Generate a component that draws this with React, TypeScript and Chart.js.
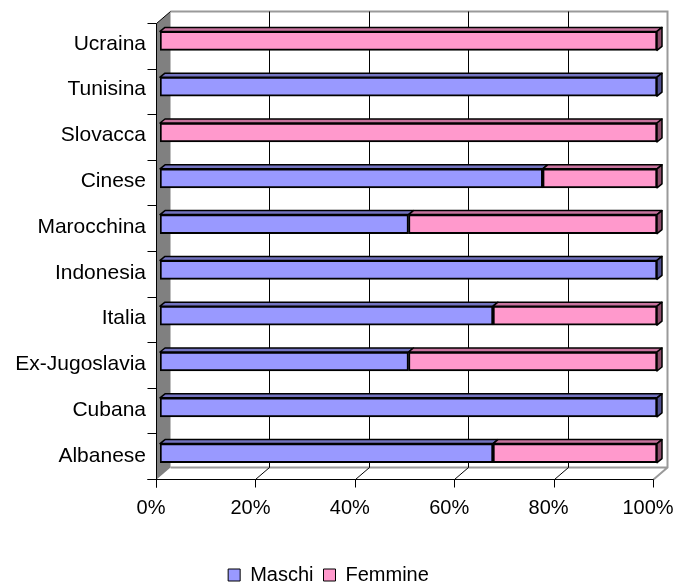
import { useEffect, useRef } from 'react';
import { Chart, registerables } from 'chart.js';

Chart.register(...registerables);

const categories = ['Ucraina', 'Tunisina', 'Slovacca', 'Cinese', 'Marocchina', 'Indonesia', 'Italia', 'Ex-Jugoslavia', 'Cubana', 'Albanese'];
const maschi = [0, 100, 0, 77, 50, 100, 67, 50, 100, 67];
const femmine = [100, 0, 100, 23, 50, 0, 33, 50, 0, 33];
const seriesNames = ['Maschi', 'Femmine'];
const xTickValues = [0, 20, 40, 60, 80, 100];

const FONT = "'Liberation Sans', Arial, sans-serif";
const W = 684;
const H = 587;
const FRONT_COLORS = ['#9999FF', '#FF99CC'];
const TOP_COLORS = ['#7373C0', '#C8739E'];
const SIDE_COLORS = ['#50508F', '#8C4D6B'];

const frame3d = {
  id: 'frame3d',
  beforeDatasetsDraw(chart: any) {
    const { ctx, chartArea: ca, scales } = chart;
    const xs = scales.x;
    const fx = (v: number) => Math.round(xs.getPixelForValue(v) - 4) + 0.5;
    const bx = (v: number) => fx(v) + 14;
    const yTop = ca.top - 7 + 0.5;
    const yFrontTop = ca.top + 5 + 0.5;
    const yBackFloor = ca.bottom - 9 + 0.5;
    const yFloor = ca.bottom + 3 + 0.5;
    ctx.save();
    ctx.strokeStyle = '#9a9a9a';
    ctx.lineWidth = 2;
    ctx.beginPath();
    ctx.moveTo(bx(0), yTop);
    ctx.lineTo(bx(100), yTop);
    ctx.lineTo(bx(100), yBackFloor);
    ctx.lineTo(fx(100), yFloor);
    ctx.moveTo(bx(0), yBackFloor);
    ctx.lineTo(bx(100), yBackFloor);
    ctx.stroke();
    ctx.strokeStyle = '#000';
    ctx.lineWidth = 1;
    for (const v of xTickValues) {
      ctx.beginPath();
      if (v > 0 && v < 100) {
        ctx.moveTo(bx(v), yTop);
        ctx.lineTo(bx(v), yBackFloor);
        ctx.lineTo(fx(v), yFloor);
      } else {
        ctx.moveTo(fx(v), yFloor);
      }
      ctx.lineTo(fx(v), yFloor + 8);
      ctx.stroke();
    }
    ctx.fillStyle = '#808080';
    ctx.beginPath();
    ctx.moveTo(fx(0), yFrontTop);
    ctx.lineTo(bx(0), yTop);
    ctx.lineTo(bx(0), yBackFloor);
    ctx.lineTo(fx(0), yFloor);
    ctx.closePath();
    ctx.fill();
    ctx.strokeStyle = '#000';
    ctx.lineWidth = 1;
    ctx.beginPath();
    ctx.moveTo(bx(0), yTop);
    ctx.lineTo(fx(0), yFrontTop);
    ctx.lineTo(fx(0), yFloor + 8);
    ctx.moveTo(fx(0) - 9, yFloor);
    ctx.lineTo(fx(100), yFloor);
    const n = categories.length;
    for (let k = 0; k <= n; k++) {
      const y = Math.round(yFrontTop + (k * (yFloor - yFrontTop)) / n - 0.5) + 0.5;
      ctx.moveTo(fx(0) - 9, y);
      ctx.lineTo(fx(0), y);
    }
    ctx.stroke();
    ctx.restore();
  },
  afterDatasetsDraw(chart: any) {
    const { ctx } = chart;
    const dx = 5;
    const dy = -4;
    ctx.save();
    ctx.strokeStyle = '#000';
    ctx.lineWidth = 1.5;
    ctx.lineJoin = 'round';
    for (let i = 0; i < categories.length; i++) {
      const segs: any[] = [];
      chart.data.datasets.forEach((_: any, d: number) => {
        const el = chart.getDatasetMeta(d).data[i];
        if (!el) return;
        const p = el.getProps(['x', 'y', 'base', 'height'], true);
        const left = Math.min(p.x, p.base);
        const right = Math.max(p.x, p.base);
        if (right - left < 0.5) return;
        segs.push({ d, left, right, top: p.y - p.height / 2, bottom: p.y + p.height / 2 });
      });
      if (!segs.length) continue;
      for (const s of segs) {
        ctx.fillStyle = TOP_COLORS[s.d];
        ctx.beginPath();
        ctx.moveTo(s.left, s.top);
        ctx.lineTo(s.right, s.top);
        ctx.lineTo(s.right + dx, s.top + dy);
        ctx.lineTo(s.left + dx, s.top + dy);
        ctx.closePath();
        ctx.fill();
        ctx.stroke();
      }
      const last = segs.reduce((a, b) => (b.right > a.right ? b : a));
      ctx.fillStyle = SIDE_COLORS[last.d];
      ctx.beginPath();
      ctx.moveTo(last.right, last.top);
      ctx.lineTo(last.right + dx, last.top + dy);
      ctx.lineTo(last.right + dx, last.bottom + dy);
      ctx.lineTo(last.right, last.bottom);
      ctx.closePath();
      ctx.fill();
      ctx.stroke();
    }
    ctx.restore();
  },
};

const PAD_BOTTOM = -8;

export default function App() {
  const ref = useRef<HTMLCanvasElement | null>(null);
  useEffect(() => {
    if (!ref.current) return;
    Chart.defaults.font.family = FONT;
    Chart.defaults.color = '#000';
    const chart = new Chart(ref.current, {
      type: 'bar',
      data: {
        labels: categories,
        datasets: [
          { label: seriesNames[0], data: maschi, backgroundColor: FRONT_COLORS[0], borderColor: '#000', borderWidth: 2, borderSkipped: false, barThickness: 19 },
          { label: seriesNames[1], data: femmine, backgroundColor: FRONT_COLORS[1], borderColor: '#000', borderWidth: 2, borderSkipped: false, barThickness: 19 },
        ],
      },
      options: {
        indexAxis: 'y',
        responsive: false,
        animation: false,
        layout: { padding: { top: 18, left: 0, right: 27, bottom: PAD_BOTTOM } },
        scales: {
          x: {
            stacked: true,
            min: 0,
            max: 100,
            grid: { display: false, drawTicks: false },
            border: { display: false },
            ticks: {
              stepSize: 20,
              padding: 20,
              labelOffset: -9,
              color: '#000',
              font: { size: 20, family: FONT },
              callback: (v: any) => v + '%',
            },
            afterFit: (s: any) => {
              const lh = s.chart.legend ? s.chart.legend.height : 0;
              s.height = H - 476 - PAD_BOTTOM - lh;
              s.paddingLeft = 0;
              s.paddingRight = 0;
              s.paddingTop = 0;
              s.paddingBottom = 0;
            },
          },
          y: {
            stacked: true,
            grid: { display: false, drawTicks: false },
            border: { display: false },
            ticks: { padding: 14, labelOffset: 3, color: '#000', font: { size: 21, family: FONT } },
            afterFit: (s: any) => {
              s.width = 160;
              s.paddingLeft = 0;
              s.paddingRight = 0;
              s.paddingTop = 0;
              s.paddingBottom = 0;
            },
          },
        },
        plugins: {
          legend: {
            position: 'bottom',
            labels: {
              boxWidth: 12,
              boxHeight: 12,
              padding: 10,
              color: '#000',
              font: { size: 20, family: FONT },
              generateLabels: (c: any) =>
                Chart.defaults.plugins.legend.labels.generateLabels(c).map((l: any) => ({ ...l, lineWidth: 1 })),
            },
          },
          tooltip: { enabled: false },
        },
      },
      plugins: [frame3d],
    });
    return () => chart.destroy();
  }, []);
  return (
    <div style={{ position: 'fixed', left: 0, top: 0, width: W, height: H, background: '#fff' }}>
      <canvas ref={ref} width={W} height={H} style={{ width: W, height: H, display: 'block' }} />
    </div>
  );
}
